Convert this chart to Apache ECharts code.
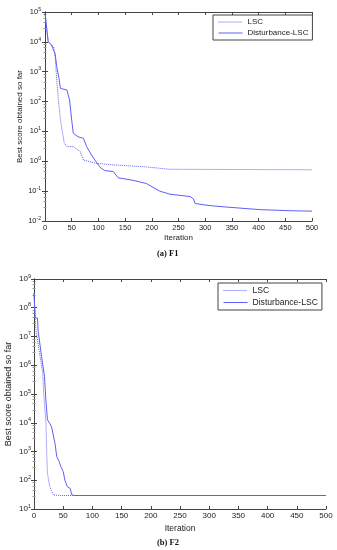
<!DOCTYPE html>
<html>
<head>
<meta charset="utf-8">
<script src="https://cdn.jsdelivr.net/npm/echarts@6/dist/echarts.min.js"></script>
<style>html,body{margin:0;padding:0;background:#fff}#c{width:337px;height:550px}</style>
</head>
<body>
<div id="c"></div>
<script>
// ---- Data ----
const seriesNames = ['LSC', 'Disturbance-LSC'];
const xTicks = [0, 50, 100, 150, 200, 250, 300, 350, 400, 450, 500];

// F1
const f1LscIter = [0, 6, 16, 19, 22, 25, 29, 36, 41, 53, 66, 72, 97, 128, 184, 234, 500];
const f1LscVal  = [89000, 10000, 6900, 3200, 525, 112, 24, 4.1, 3.1, 3.1, 2.1, 1.1, 0.85, 0.76, 0.66, 0.54, 0.52];
const f1DisIter = [0, 6, 12, 19, 22, 26, 29, 41, 46, 50, 53, 62, 72, 78, 87, 97, 103, 112, 128, 137, 165, 190, 215, 234, 272, 278, 281, 296, 315, 343, 346, 403, 462, 500];
const f1DisVal  = [89000, 10000, 7900, 4000, 1480, 630, 275, 245, 112, 24, 8.7, 6.6, 5.9, 3.1, 1.62, 0.89, 0.63, 0.49, 0.45, 0.28, 0.23, 0.18, 0.1, 0.079, 0.066, 0.055, 0.039, 0.035, 0.032, 0.029, 0.026, 0.024, 0.022, 0.0214];

// F2
const f2LscIter = [0, 2, 3.4, 10, 15, 16, 17, 20.5, 22, 23, 27, 33, 44.5, 500];
const f2LscVal  = [3.2e8, 4.4e7, 1.6e7, 2.3e6, 5.2e5, 1.8e5, 7.9e4, 9500, 660, 174, 60, 31, 29.5, 29.5];
const f2DisIter = [0, 2, 6, 7, 13, 18, 20, 23, 27, 30, 36, 39, 43, 46, 50, 53, 57, 62, 64.5, 70, 500];
const f2DisVal  = [3.2e8, 4.4e7, 4.4e7, 1.6e7, 2.0e6, 4.0e5, 7.9e4, 12600, 9500, 7200, 1900, 660, 450, 295, 200, 100, 60, 52, 31, 29.5, 29.5];

const f1YRange = [0.01, 1e5];
const f2YRange = [10, 1e9];

// ---- Helpers ----
function pairs(xs, ys) { return xs.map((x, i) => [x, ys[i]]); }
const LINE_COLOR = '#5f5ff7';
const AXIS_COLOR = '#444';
const SANS = 'Liberation Sans';

function yLabelFmt(v) {
  const e = Math.round(Math.log10(v));
  return '{b|10}{s|' + e + '}';
}
function yRich(fs) {
  return {
    b: { fontSize: fs, fontFamily: SANS, color: '#222' },
    s: { fontSize: fs * 0.68, fontFamily: SANS, color: '#222', padding: [0, 0, fs * 0.7, 0] }
  };
}
function xAxisDef(grid, pos, fs, margin, showName, nameGap, nameFs) {
  return {
    type: 'value', gridIndex: grid, position: pos, min: 0, max: 500, interval: 50,
    axisLine: { show: true, lineStyle: { color: AXIS_COLOR, width: 1 } },
    axisTick: { show: true, inside: true, length: 3, lineStyle: { color: AXIS_COLOR } },
    axisLabel: { show: pos === 'bottom', fontSize: fs, fontFamily: SANS, color: '#222', margin: margin },
    splitLine: { show: false },
    name: showName ? 'Iteration' : '', nameLocation: 'middle', nameGap: nameGap, nameMoveOverlap: false,
    nameTextStyle: { fontSize: nameFs, fontFamily: SANS, color: '#222' }
  };
}
function yAxisDef(grid, pos, range, split, fs, margin, showName, nameGap, nameFs) {
  return {
    type: 'log', logBase: 10, gridIndex: grid, position: pos, min: range[0], max: range[1], splitNumber: split,
    axisLine: { show: true, lineStyle: { color: AXIS_COLOR, width: 1 } },
    axisTick: { show: true, inside: true, length: 3, lineStyle: { color: AXIS_COLOR } },
    minorTick: { show: true, splitNumber: 5, length: 1.5, lineStyle: { color: '#999' } },
    axisLabel: { show: pos === 'left', formatter: yLabelFmt, rich: yRich(fs), margin: margin },
    splitLine: { show: false },
    name: showName ? 'Best score obtained so far' : '', nameLocation: 'middle', nameGap: nameGap, nameMoveOverlap: false,
    nameTextStyle: { fontSize: nameFs, fontFamily: SANS, color: '#222' }
  };
}
function legendDef(left, top, fs) {
  return {
    orient: 'vertical', left: left, top: top, data: seriesNames,
    borderColor: AXIS_COLOR, borderWidth: 1, borderRadius: 0, backgroundColor: '#fff',
    padding: [3, 4, 3, 5], itemWidth: 24, itemHeight: 8, itemGap: 3,
    itemStyle: { opacity: 0 },
    lineStyle: { width: 1 },
    textStyle: { fontSize: fs, fontFamily: SANS, color: '#222' },
    selectedMode: false
  };
}
function lineSeries(name, x, y, xi, yi, dotted) {
  return {
    name: name, type: 'line', xAxisIndex: xi, yAxisIndex: yi, data: pairs(x, y),
    symbol: 'none', smooth: false, animation: false,
    lineStyle: { color: LINE_COLOR, width: 1, type: dotted ? 'dotted' : 'solid' },
    itemStyle: { color: LINE_COLOR }
  };
}

const chart = echarts.init(document.getElementById('c'), null, { renderer: 'canvas' });
chart.setOption({
  animation: false,
  backgroundColor: '#fff',
  grid: [
    { left: 45, top: 12, width: 267, height: 209, containLabel: false, outerBoundsMode: 'none' },
    { left: 34, top: 279, width: 292, height: 230, containLabel: false, outerBoundsMode: 'none' }
  ],
  xAxis: [
    xAxisDef(0, 'bottom', 7.5, 3, true, 13, 8),
    xAxisDef(0, 'top', 7.5, 3, false, 0, 8),
    xAxisDef(1, 'bottom', 8, 3, true, 15, 8.5),
    xAxisDef(1, 'top', 8, 3, false, 0, 8.5)
  ],
  yAxis: [
    yAxisDef(0, 'left', f1YRange, 7, 7.5, 4, true, 21, 8),
    yAxisDef(0, 'right', f1YRange, 7, 7.5, 4, false, 0, 8),
    yAxisDef(1, 'left', f2YRange, 8, 8, 3, true, 21, 9),
    yAxisDef(1, 'right', f2YRange, 8, 8, 3, false, 0, 9)
  ],
  legend: [legendDef(213, 15, 8), legendDef(218, 283, 8.6)],
  series: [
    lineSeries('LSC', f1LscIter, f1LscVal, 0, 0, true),
    lineSeries('Disturbance-LSC', f1DisIter, f1DisVal, 0, 0, false),
    lineSeries('LSC', f2LscIter, f2LscVal, 2, 2, true),
    lineSeries('Disturbance-LSC', f2DisIter, f2DisVal, 2, 2, false)
  ],
  graphic: [
    { type: 'text', left: 157, top: 249, style: { text: '(a) F1', font: 'bold 8.5px "Liberation Serif"', fill: '#111' } },
    { type: 'text', left: 157, top: 538, style: { text: '(b) F2', font: 'bold 8.5px "Liberation Serif"', fill: '#111' } }
  ]
});
</script>
</body>
</html>
